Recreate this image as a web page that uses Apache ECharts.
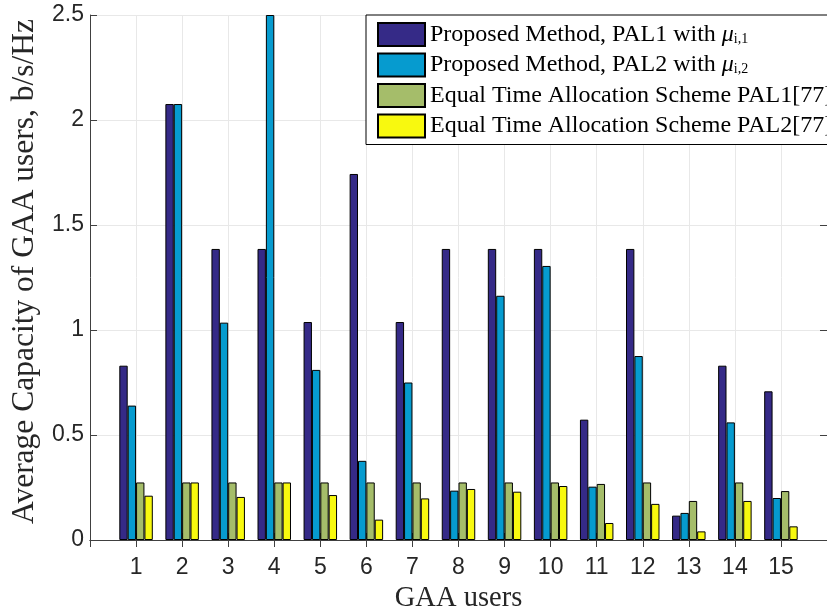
<!DOCTYPE html>
<html>
<head>
<meta charset="utf-8">
<script src="https://cdn.jsdelivr.net/npm/echarts@6/dist/echarts.min.js"></script>
<style>
  html, body { margin: 0; padding: 0; background: #ffffff; }
  #chart { width: 827px; height: 610px; }
</style>
</head>
<body>
<div id="chart"></div>
<script>
// GAA users on the horizontal axis
const users = ['1', '2', '3', '4', '5', '6', '7', '8', '9', '10', '11', '12', '13', '14', '15'];

// Average capacity (b/s/Hz) for each scheme
const proposedPal1 = [0.83, 2.076, 1.386, 1.386, 1.038, 1.743, 1.038, 1.386, 1.386, 1.386, 0.573, 1.386, 0.116, 0.83, 0.708];
const proposedPal2 = [0.64, 2.076, 1.035, 2.5, 0.81, 0.377, 0.75, 0.235, 1.163, 1.305, 0.254, 0.876, 0.129, 0.56, 0.2];
const equalPal1 = [0.274, 0.274, 0.274, 0.274, 0.274, 0.274, 0.274, 0.274, 0.274, 0.274, 0.267, 0.274, 0.186, 0.274, 0.233];
const equalPal2 = [0.211, 0.274, 0.205, 0.274, 0.214, 0.097, 0.198, 0.243, 0.23, 0.257, 0.081, 0.172, 0.041, 0.186, 0.065];

const seriesNames = [
  'Proposed Method, PAL1 with {mu|μ}{sub|i,1}',
  'Proposed Method, PAL2 with {mu|μ}{sub|i,2}',
  'Equal Time Allocation Scheme PAL1[77]',
  'Equal Time Allocation Scheme PAL2[77]'
];
const seriesValues = [proposedPal1, proposedPal2, equalPal1, equalPal2];
const seriesColors = ['#352a87', '#069bcf', '#a5bd6a', '#f8f90f'];

// The x range runs from 0 to 16 so each user sits on an integer position
const axisCats = ['0'].concat(users, ['16']);
const pad = arr => ['-'].concat(arr, ['-']);

const axisColor = '#404040';
const gridColor = '#e8e8e8';

const chart = echarts.init(document.getElementById('chart'), null, { renderer: 'canvas' });

chart.setOption({
  animation: false,
  backgroundColor: '#ffffff',
  grid: { left: 90, right: 0, top: 15, bottom: 70, containLabel: false, outerBoundsMode: 'none' },
  legend: {
    orient: 'vertical',
    left: 366,
    top: 15,
    padding: [7, 10, 6, 11],
    itemGap: 5.5,
    itemWidth: 47,
    itemHeight: 23,
    backgroundColor: '#ffffff',
    borderColor: '#000000',
    borderWidth: 1,
    borderRadius: 0,
    icon: 'rect',
    selectedMode: false,
    textStyle: {
      fontFamily: 'Liberation Serif',
      fontSize: 24,
      lineHeight: 23,
      color: '#000000',
      rich: {
        mu: { fontFamily: 'Liberation Serif', fontStyle: 'italic', fontSize: 24, lineHeight: 23, color: '#000000' },
        sub: { fontFamily: 'Liberation Serif', fontSize: 14, lineHeight: 14, color: '#000000', padding: [9, 0, 0, 0] }
      }
    },
    data: seriesNames
  },
  xAxis: [
    {
      type: 'category',
      data: axisCats,
      boundaryGap: false,
      position: 'bottom',
      name: 'GAA users',
      nameLocation: 'middle',
      nameGap: 42,
      nameTextStyle: { fontFamily: 'Liberation Serif', fontSize: 28.5, color: '#262626' },
      axisLine: { show: true, lineStyle: { color: axisColor, width: 1 } },
      axisTick: { show: true, inside: true, length: 7, interval: 0, lineStyle: { color: axisColor } },
      axisLabel: {
        interval: 0,
        margin: 16,
        fontFamily: 'Liberation Sans',
        fontSize: 23,
        color: '#262626',
        formatter: v => (v === '0' || v === '16') ? '' : v
      },
      splitLine: { show: true, interval: 0, lineStyle: { color: gridColor, width: 1 } }
    },
    {
      type: 'category',
      data: axisCats,
      boundaryGap: false,
      position: 'top',
      axisLine: { show: true, lineStyle: { color: axisColor, width: 1 } },
      axisTick: { show: true, inside: true, length: 7, interval: 0, lineStyle: { color: axisColor } },
      axisLabel: { show: false },
      splitLine: { show: false }
    }
  ],
  yAxis: [
    {
      type: 'value',
      min: 0,
      max: 2.5,
      interval: 0.5,
      position: 'left',
      name: 'Average Capacity of GAA users, b/s/Hz',
      nameLocation: 'middle',
      nameRotate: 90,
      nameGap: 48,
      nameTextStyle: { fontFamily: 'Liberation Serif', fontSize: 31.5, color: '#262626', padding: [0, 0, 0, 12] },
      axisLine: { show: true, lineStyle: { color: axisColor, width: 1 } },
      axisTick: { show: true, inside: true, length: 7, lineStyle: { color: axisColor } },
      axisLabel: { margin: 6, fontFamily: 'Liberation Sans', fontSize: 23, color: '#262626' },
      splitLine: { show: true, lineStyle: { color: gridColor, width: 1 } }
    },
    {
      type: 'value',
      min: 0,
      max: 2.5,
      interval: 0.5,
      position: 'right',
      axisLine: { show: true, lineStyle: { color: axisColor, width: 1 } },
      axisTick: { show: true, inside: true, length: 7, lineStyle: { color: axisColor } },
      axisLabel: { show: false },
      splitLine: { show: false }
    }
  ],
  series: seriesNames.map((name, i) => ({
    name: name,
    type: 'bar',
    xAxisIndex: 0,
    yAxisIndex: 0,
    data: pad(seriesValues[i]),
    barGap: '0%',
    barCategoryGap: '27.3%',
    itemStyle: { color: seriesColors[i], borderColor: '#000000', borderWidth: 1 },
    emphasis: { disabled: true }
  }))
});
</script>
</body>
</html>
